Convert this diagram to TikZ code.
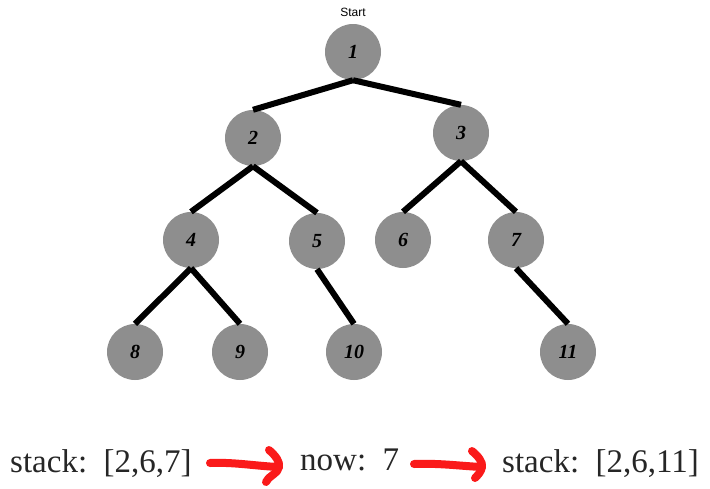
\documentclass[tikz,border=0pt]{standalone}
\usepackage{fontspec}
\setmainfont{Liberation Serif}
\newfontfamily\labelfont{Liberation Sans}
\begin{document}
\begin{tikzpicture}[x=1pt,y=-1pt,
  tnode/.style={circle,fill=nodegray,minimum size=56pt,inner sep=0pt,font=\fontsize{20}{20}\selectfont\bfseries\itshape},
  tedge/.style={line width=6pt,black},
  redarrow/.style={line width=8pt,draw=arrowred,line cap=round,line join=round},
  bottomtext/.style={anchor=base west,inner sep=0pt,font=\fontsize{33}{33}\selectfont,text=black!85}]
\definecolor{nodegray}{RGB}{142,142,142}
\definecolor{arrowred}{RGB}{250,26,26}
\useasboundingbox (0,0) rectangle (710,488);
% nodes
\node[tnode] (n1) at (353,52) {1};
\node[tnode] (n2) at (253,138) {2};
\node[tnode] (n3) at (461,133) {3};
\node[tnode] (n4) at (191,240) {4};
\node[tnode] (n5) at (317,241) {5};
\node[tnode] (n6) at (403,240) {6};
\node[tnode] (n7) at (516,240) {7};
\node[tnode] (n8) at (135,352) {8};
\node[tnode] (n9) at (240,352) {9};
\node[tnode] (n10) at (354,352) {10};
\node[tnode] (n11) at (568,352) {11};
\node[font=\labelfont\fontsize{12}{12}\selectfont] (start) at (353,12) {Start};
% edges
\draw[tedge] (n1.south) -- (n2.north);
\draw[tedge] (n1.south) -- (n3.north);
\draw[tedge] (n2.south) -- (n4.north);
\draw[tedge] (n2.south) -- (n5.north);
\draw[tedge] (n3.south) -- (n6.north);
\draw[tedge] (n3.south) -- (n7.north);
\draw[tedge] (n4.south) -- (n8.north);
\draw[tedge] (n4.south) -- (n9.north);
\draw[tedge] (n5.south) -- (n10.north);
\draw[tedge] (n7.south) -- (n11.north);
% bottom texts
\node[bottomtext] (t1) at (10,472) {stack:~~[2,6,7]};
\node[bottomtext] (t2) at (300,470) {now:~~7};
\node[bottomtext] (t3) at (502,472) {stack:~~[2,6,11]};
% red arrows
\coordinate (a1s) at (210,463);
\coordinate (a1t) at (279,467);
\coordinate (a1u) at (269,450);
\coordinate (a1d) at (266,482);
\draw[redarrow] (a1s) .. controls (235,462) and (255,466) .. (a1t);
\draw[redarrow] (a1u) .. controls (276,456) and (280,462) .. (a1t) .. controls (278,474) and (268,476) .. (a1d);
\coordinate (a2s) at (414,464);
\coordinate (a2t) at (482,467);
\coordinate (a2u) at (472,451);
\coordinate (a2d) at (475,478);
\draw[redarrow] (a2s) .. controls (440,463) and (460,466) .. (a2t);
\draw[redarrow] (a2u) .. controls (478,456) and (483,462) .. (a2t) .. controls (481,472) and (478,475) .. (a2d);
\end{tikzpicture}
\end{document}
